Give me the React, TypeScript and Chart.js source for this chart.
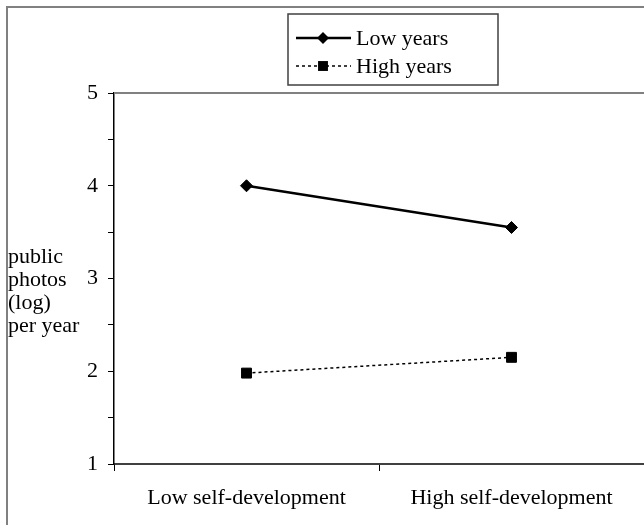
import React, { useEffect, useRef } from "react";
import { Chart, registerables } from "chart.js";

Chart.register(...registerables);

const categories = ["Low self-development", "High self-development"];
const lowYears = [4.0, 3.55];
const highYears = [1.98, 2.15];
const seriesNames = ["Low years", "High years"];
const yTitleLines = ["public", "photos", "(log)", "per year"];
const yMin = 1;
const yMax = 5;

const FONT = "'Liberation Serif', 'Times New Roman', serif";

const decorPlugin = {
  id: "decor",
  afterDraw(chart: any) {
    const { ctx, chartArea } = chart;
    ctx.save();
    // outer frame
    ctx.strokeStyle = "#808080";
    ctx.lineWidth = 2;
    ctx.beginPath();
    ctx.moveTo(7, 530);
    ctx.lineTo(7, 7);
    ctx.lineTo(650, 7);
    ctx.stroke();
    // plot top line
    ctx.strokeStyle = "#808080";
    ctx.lineWidth = 2;
    ctx.beginPath();
    ctx.moveTo(chartArea.left, chartArea.top);
    ctx.lineTo(chartArea.right + 2, chartArea.top);
    ctx.stroke();
    // y title
    ctx.fillStyle = "#000";
    ctx.font = `22px ${FONT}`;
    ctx.textAlign = "left";
    ctx.textBaseline = "alphabetic";
    const yc = chart.scales.y.getPixelForValue(3);
    yTitleLines.forEach((t, i) => {
      ctx.fillText(t, 8, yc + 7 + (i - 1) * 23);
    });
    // legend
    const bx = 288, by = 14, bw = 210, bh = 71;
    ctx.strokeStyle = "#404040";
    ctx.lineWidth = 1.5;
    ctx.strokeRect(bx, by, bw, bh);
    chart.data.datasets.forEach((ds: any, i: number) => {
      const y = 38 + i * 28;
      ctx.save();
      ctx.strokeStyle = ds.borderColor;
      ctx.lineWidth = ds.borderWidth;
      ctx.setLineDash(ds.borderDash || []);
      ctx.beginPath();
      ctx.moveTo(296, y);
      ctx.lineTo(351, y);
      ctx.stroke();
      ctx.restore();
      ctx.save();
      ctx.fillStyle = ds.pointBackgroundColor;
      ctx.beginPath();
      if (ds.pointStyle === "rectRot") {
        const r = ds.pointRadius;
        ctx.moveTo(323 - r, y);
        ctx.lineTo(323, y - r);
        ctx.lineTo(323 + r, y);
        ctx.lineTo(323, y + r);
        ctx.closePath();
      } else {
        const s = ds.pointRadius * Math.SQRT1_2;
        ctx.rect(323 - s, y - s, 2 * s, 2 * s);
      }
      ctx.fill();
      ctx.restore();
      ctx.fillStyle = "#000";
      ctx.font = `22px ${FONT}`;
      ctx.textBaseline = "middle";
      ctx.fillText(ds.label, 356, y + 1);
    });
    ctx.restore();
  },
};

export default function App() {
  const ref = useRef<HTMLCanvasElement | null>(null);
  useEffect(() => {
    if (!ref.current) return;
    const chart = new Chart(ref.current, {
      type: "line",
      data: {
        labels: categories,
        datasets: [
          {
            label: seriesNames[0],
            data: lowYears,
            borderColor: "#000",
            borderWidth: 2.5,
            pointStyle: "rectRot",
            pointRadius: 6,
            pointBackgroundColor: "#000",
            pointBorderColor: "#000",
            pointBorderWidth: 1,
          },
          {
            label: seriesNames[1],
            data: highYears,
            borderColor: "#000",
            borderWidth: 1.5,
            borderDash: [3, 3],
            pointStyle: "rect",
            pointRadius: 7,
            pointBackgroundColor: "#000",
            pointBorderColor: "#000",
            pointBorderWidth: 1,
          },
        ],
      },
      options: {
        responsive: false,
        animation: false,
        layout: { autoPadding: false, padding: { top: 93, left: 0, right: 0, bottom: 0 } },
        plugins: { legend: { display: false }, tooltip: { enabled: false } },
        scales: {
          x: {
            type: "category",
            offset: true,
            afterFit: (s: any) => {
              s.height = 61;
              s.paddingLeft = 0;
              s.paddingRight = 0;
            },
            grid: {
              offset: true,
              drawOnChartArea: false,
              drawTicks: true,
              tickLength: 7,
              color: "#000",
              lineWidth: 1,
            },
            border: { color: "#404040", width: 2 },
            ticks: {
              color: "#000",
              font: { family: FONT, size: 22 },
              padding: 14,
              maxRotation: 0,
            },
          },
          y: {
            min: yMin,
            max: yMax,
            afterFit: (s: any) => {
              s.width = 114;
            },
            grid: {
              drawOnChartArea: false,
              drawTicks: true,
              tickLength: 6,
              color: "#000",
              lineWidth: 1,
            },
            border: { color: "#000", width: 1.5 },
            ticks: {
              stepSize: 0.5,
              color: "#000",
              font: { family: FONT, size: 22 },
              padding: 10,
              callback: (v: any) => (Number.isInteger(Number(v)) ? String(v) : ""),
            },
          },
        },
      },
      plugins: [decorPlugin],
    });
    return () => chart.destroy();
  }, []);
  return (
    <canvas
      ref={ref}
      width={644}
      height={525}
      style={{ position: "absolute", left: 0, top: 0, width: 644, height: 525 }}
    />
  );
}
